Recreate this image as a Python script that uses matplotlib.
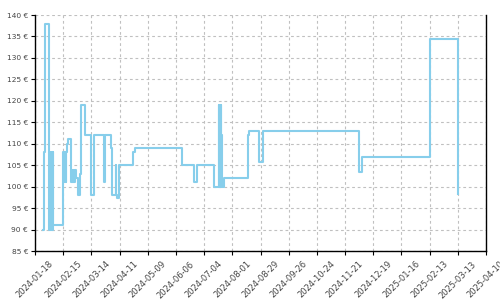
import matplotlib
matplotlib.use('Agg')
import matplotlib.pyplot as plt
import matplotlib.dates as mdates
import pandas as pd
import numpy as np

# price history (step changes)
dates = [
	'2024-01-26', '2024-01-27', '2024-01-28', '2024-02-01',
	'2024-02-01 12:00', '2024-02-02', '2024-02-02 12:00', '2024-02-03',
	'2024-02-03 12:00', '2024-02-04', '2024-02-04 12:00', '2024-02-05',
	'2024-02-15', '2024-02-15 12:00', '2024-02-16', '2024-02-16 12:00',
	'2024-02-17', '2024-02-17 12:00', '2024-02-18', '2024-02-19',
	'2024-02-20', '2024-02-23', '2024-02-23 12:00', '2024-02-24',
	'2024-02-24 12:00', '2024-02-25', '2024-02-25 12:00', '2024-02-26',
	'2024-02-27', '2024-02-28', '2024-03-01', '2024-03-03',
	'2024-03-04', '2024-03-08', '2024-03-14', '2024-03-17',
	'2024-03-27', '2024-03-27 12:00', '2024-03-28', '2024-04-02',
	'2024-04-03', '2024-04-07', '2024-04-07 12:00', '2024-04-08',
	'2024-04-10', '2024-04-24', '2024-04-26', '2024-06-12',
	'2024-06-24', '2024-06-27', '2024-07-14', '2024-07-18 12:00',
	'2024-07-19', '2024-07-19 12:00', '2024-07-20', '2024-07-20 12:00',
	'2024-07-21', '2024-07-21 12:00', '2024-07-22', '2024-07-24',
	'2024-08-17', '2024-08-18', '2024-08-28', '2024-08-31',
	'2024-12-05', '2024-12-08', '2025-02-13', '2025-03-13',
]
prices = [
	90, 108, 138, 90,
	108, 90, 108, 90,
	108, 90, 108, 91,
	108, 101, 108, 101,
	108, 101, 108, 110,
	111, 101, 104, 101,
	104, 101, 104, 101,
	104, 102, 98, 103,
	119, 112, 98, 112,
	101, 105.5, 112, 109,
	98, 105, 98, 97.3,
	105, 108, 109, 105,
	101, 105, 100, 119,
	100, 119, 100, 119,
	112, 100, 100, 102,
	112, 113, 105.7, 113,
	103.5, 107, 134.3, 98.4,
]

x_start = '2024-01-18'
x_end = '2025-04-10'
y_ticks = list(range(85, 141, 5))


def main():
	dateIndex = pd.to_datetime(dates, format='mixed')

	fig = plt.figure(figsize=(5, 3), dpi=100)
	ax = fig.add_axes([0.07, 0.163, 0.902, 0.787])

	ax.plot(dateIndex, prices, drawstyle='steps-post', color='#87CEEB', linewidth=1.5)

	xTicks = pd.date_range(x_start, x_end, freq='28D')
	ax.set_xlim(pd.Timestamp(x_start), pd.Timestamp(x_end))
	ax.set_xticks(xTicks)
	ax.xaxis.set_major_formatter(mdates.DateFormatter('%Y-%m-%d'))
	ax.set_ylim(85, 140)
	ax.set_yticks(y_ticks)
	ax.set_yticklabels([f'{v} €' for v in y_ticks])

	ax.tick_params(axis='both', labelcolor='#444444', length=3, width=0.8)
	ax.tick_params(axis='y', labelsize=5.4, pad=2)
	ax.tick_params(axis='x', labelsize=6, pad=3)
	plt.setp(ax.get_xticklabels(), rotation=45)

	ax.grid(True, color='#c0c0c0', linestyle=(0, (2.5, 2.5)), linewidth=0.8)
	ax.spines['top'].set_visible(False)
	for side in ['left', 'bottom', 'right']:
		ax.spines[side].set_color('black')
		ax.spines[side].set_linewidth(1)

	fig.savefig('out.png', dpi=100)


main()
